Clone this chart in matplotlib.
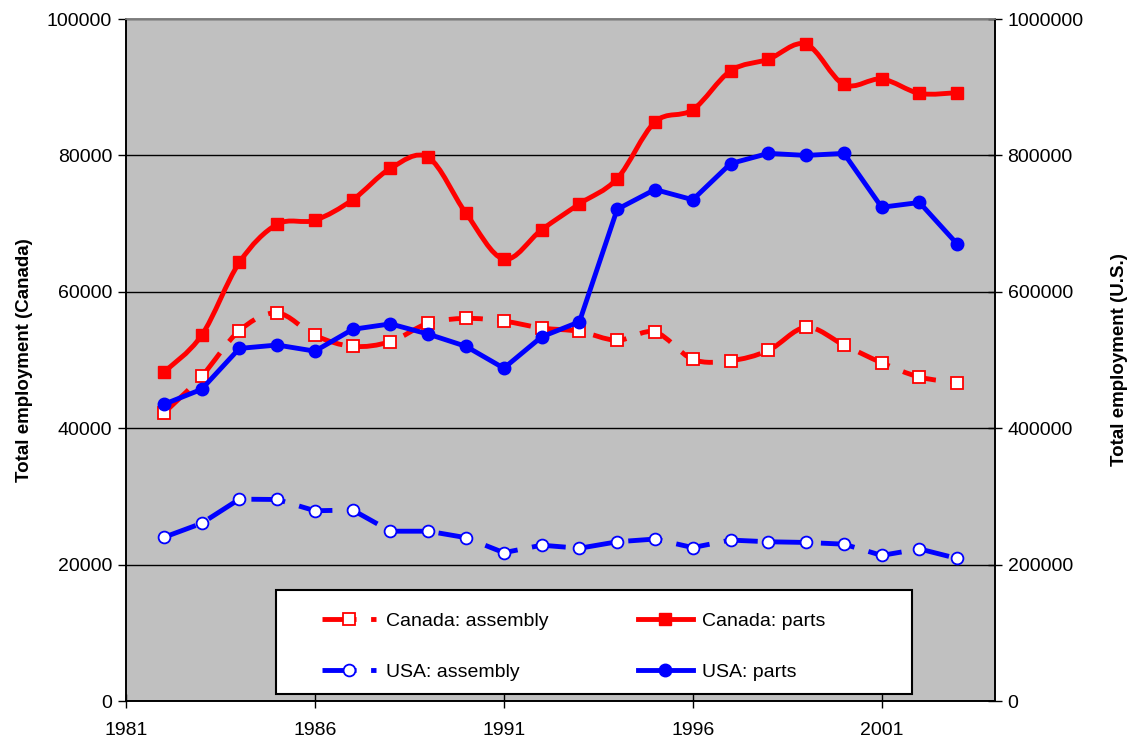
import matplotlib
matplotlib.use("Agg")
import matplotlib.pyplot as plt
from matplotlib.path import Path
from matplotlib.patches import PathPatch, Rectangle
from matplotlib.lines import Line2D
from matplotlib.ticker import MultipleLocator, FixedLocator, StrMethodFormatter

# data
years = list(range(1982, 2004))
canada_assembly = [42200, 47600, 54300, 56900, 53600, 52000, 52700, 55400, 56100, 55700, 54700,
                   54200, 52900, 54100, 50100, 49900, 51400, 54800, 52200, 49600, 47500, 46700]
canada_parts = [48200, 53600, 64300, 69900, 70500, 73500, 78100, 79700, 71500, 64800, 69100,
                72900, 76600, 84900, 86700, 92400, 94100, 96300, 90400, 91200, 89100, 89200]
usa_assembly = [240000, 260500, 296000, 295500, 279000, 280000, 249000, 249000, 239500, 217500, 228500,
                224000, 233500, 237500, 225000, 236000, 233500, 232500, 230000, 213500, 223000, 209000]
usa_parts = [435000, 457000, 517000, 522000, 513000, 545000, 553000, 538000, 520000, 488000, 534000,
             556000, 721000, 750000, 735000, 788000, 803000, 800000, 803000, 724000, 731000, 670000]
year_ticks = [1981, 1986, 1991, 1996, 2001]

RED = "#FF0000"
BLUE = "#0000FF"
LONG_DASH = (0, (7, 3))

plt.rcParams["font.family"] = ["Liberation Sans", "DejaVu Sans"]
plt.rcParams["font.size"] = 14


def smooth_path(xs, ys):
    """Catmull-Rom style bezier through the points (like Excel's smoothed line)."""
    pts = list(zip(xs, ys))
    n = len(pts)
    verts = [pts[0]]
    codes = [Path.MOVETO]
    for i in range(n - 1):
        p0 = pts[max(i - 1, 0)]
        p1 = pts[i]
        p2 = pts[i + 1]
        p3 = pts[min(i + 2, n - 1)]
        c1 = (p1[0] + (p2[0] - p0[0]) / 6, p1[1] + (p2[1] - p0[1]) / 6)
        c2 = (p2[0] - (p3[0] - p1[0]) / 6, p2[1] - (p3[1] - p1[1]) / 6)
        verts += [c1, c2, p2]
        codes += [Path.CURVE4] * 3
    return Path(verts, codes)


fig = plt.figure(figsize=(11.32, 7.43), dpi=100)
ax = fig.add_axes([0.1113, 0.0565, 0.7677, 0.9179])
ax.set_facecolor("#C0C0C0")
ax2 = ax.twinx()

# Canada, left axis (smoothed lines)
ax.add_patch(PathPatch(smooth_path(years, canada_assembly), facecolor="none", edgecolor=RED,
                       lw=3.5, linestyle=LONG_DASH, capstyle="butt", joinstyle="round", zorder=3))
ax.plot(years, canada_assembly, linestyle="none", marker="s", ms=9, mfc="white", mec=RED,
        mew=1.3, zorder=4)
ax.add_patch(PathPatch(smooth_path(years, canada_parts), facecolor="none", edgecolor=RED,
                       lw=3.5, joinstyle="round", zorder=3))
ax.plot(years, canada_parts, linestyle="none", marker="s", ms=9, mfc=RED, mec=RED, zorder=4)

# USA, right axis
ax2.plot(years, usa_assembly, color=BLUE, lw=3.5, linestyle=LONG_DASH, marker="o", ms=8.5,
         mfc="white", mec=BLUE, mew=1.3, zorder=3)
ax2.plot(years, usa_parts, color=BLUE, lw=3.5, marker="o", ms=9, mfc=BLUE, mec=BLUE, zorder=3)

ax.set_xlim(1981, 2004)
ax.set_ylim(0, 100000)
ax2.set_ylim(0, 1000000)
ax.xaxis.set_major_locator(FixedLocator(year_ticks))
ax.yaxis.set_major_locator(MultipleLocator(20000))
ax2.yaxis.set_major_locator(MultipleLocator(200000))
ax.yaxis.set_major_formatter(StrMethodFormatter("{x:.0f}"))
ax2.yaxis.set_major_formatter(StrMethodFormatter("{x:.0f}"))
ax.grid(axis="y", color="black", lw=1.0)
ax.set_axisbelow(True)

ax.tick_params(axis="x", direction="inout", length=10, width=1, pad=10)
ax.tick_params(axis="y", direction="out", length=6, width=1, pad=4)
ax2.tick_params(axis="y", direction="inout", length=10, width=1, pad=4)

for a in (ax, ax2):
    for side in ("left", "right", "bottom"):
        a.spines[side].set_color("black")
        a.spines[side].set_linewidth(1.2)
    a.spines["top"].set_color("#808080")
    a.spines["top"].set_linewidth(1.2)

ax.set_ylabel("Total employment (Canada)", fontweight="bold", fontsize=13.5, labelpad=10)
ax2.set_ylabel("Total employment (U.S.)", fontweight="bold", fontsize=13.5, labelpad=20)

# legend box drawn separately so it can sit exactly where the reference has it
ax2.add_patch(Rectangle((0.1726, 0.0103), 0.732, 0.1525, transform=ax2.transAxes,
                        facecolor="white", edgecolor="black", lw=1.5, zorder=4))

handles = [
    Line2D([], [], color=RED, lw=3.5, linestyle=LONG_DASH, marker="s", ms=9, mfc="white", mec=RED, mew=1.3),
    Line2D([], [], color=BLUE, lw=3.5, linestyle=LONG_DASH, marker="o", ms=8.5, mfc="white", mec=BLUE, mew=1.3),
    Line2D([], [], color=RED, lw=3.5, marker="s", ms=9, mfc=RED, mec=RED),
    Line2D([], [], color=BLUE, lw=3.5, marker="o", ms=9, mfc=BLUE, mec=BLUE),
]
labels = ["Canada: assembly", "USA: assembly", "Canada: parts", "USA: parts"]
leg = ax2.legend(handles, labels, ncol=2, loc="upper left", bbox_to_anchor=(0.2255, 0.1305),
                 frameon=False, handlelength=2.8, handletextpad=0.5, columnspacing=4.6,
                 borderpad=0, labelspacing=1.75, borderaxespad=0, fontsize=14)
leg.set_zorder(5)

fig.savefig("out.png", dpi=100)
